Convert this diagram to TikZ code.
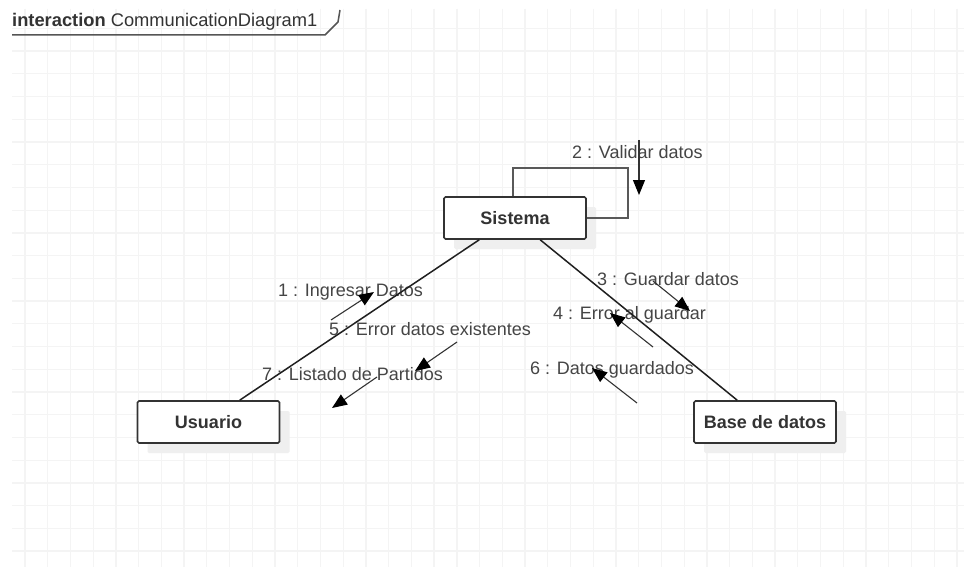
\documentclass[tikz,border=0pt]{standalone}
\usepackage{fontspec}
\setmainfont{Liberation Sans}
\usetikzlibrary{arrows.meta,calc,shadows}
\definecolor{gridc}{HTML}{F4F4F4}
\definecolor{shadowc}{HTML}{EFEFEF}
\definecolor{boxline}{HTML}{333333}
\definecolor{labelc}{HTML}{454545}
\definecolor{framec}{HTML}{555555}
\begin{document}
\begin{tikzpicture}[x=1pt,y=-1pt,
  gridline/.style={draw=gridc,line width=1.3pt},
  obj/.style={draw=boxline,fill=white,line width=1.6pt,rounded corners=1.5pt,
    minimum width=142pt,minimum height=42pt,inner sep=0pt,
    font=\fontsize{18}{20}\selectfont\bfseries,text=boxline,
    copy shadow={shadow xshift=10pt,shadow yshift=-10pt,fill=shadowc,draw=none}},
  link/.style={draw=black!88,line width=1.5pt},
  selflink/.style={draw=black!65,line width=1.5pt},
  msg/.style={font=\fontsize{18}{20}\selectfont,text=labelc,inner sep=0pt,anchor=west},
  msgarrow/.style={draw=black!80,line width=1.1pt,
    -{Triangle[length=15pt,width=12pt,color=black]}}]
\useasboundingbox (0,0) rectangle (964,567);
\fill[white] (0,0) rectangle (964,567);

% background grid
\begin{scope}
  \clip (12,9) rectangle (964,567);
  \foreach \i in {0,...,41}
    \draw[gridline] ({25+22.73*\i},9) -- ({25+22.73*\i},567);
  \foreach \j in {0,...,25}
    \draw[gridline] (12,{5.6+22.73*\j}) -- (964,{5.6+22.73*\j});
\end{scope}

% frame header
\node[anchor=base west,inner sep=0pt,text=boxline,font=\fontsize{18.3}{20}\selectfont] (title) at (12,27)
  {\textbf{interaction} CommunicationDiagram1};
\draw[framec,line width=1.5pt] (12,35) -- (325,35) -- (338,22) -- (340,10);

% message labels
\node[msg] (l1) at (278,292) {1 : Ingresar Datos};
\node[msg] (l2) at (572,152) {2 : Validar datos};
\node[msg] (l3) at (597,279) {3 : Guardar datos};
\node[msg] (l4) at (553,315) {4 : Error al guardar};
\node[msg] (l5) at (329,329) {5 : Error datos existentes};
\node[msg] (l6) at (530,370) {6 : Datos guardados};
\node[msg] (l7) at (262,374) {7 : Listado de Partidos};

% objects
\node[obj] (sis) at (515,218) {Sistema};
\node[obj] (usr) at (208.5,422) {Usuario};
\node[obj] (bd) at (765,422) {Base de datos};

% links
\draw[link] ($(sis.south west)+(36,0)$) -- ($(usr.north west)+(103,0)$);
\draw[link] ($(sis.south west)+(97,0)$) -- ($(bd.north west)+(44,0)$);
\draw[selflink] ($(sis.north west)+(70,0)$) |- ($(sis.north east)+(41,-28)$) |- (sis.east);

% message arrows
\coordinate (m1a) at (331,320); \coordinate (m1b) at (374,292);
\coordinate (m2a) at (639,140); \coordinate (m2b) at (639,195);
\coordinate (m3a) at (653,281); \coordinate (m3b) at (690,311);
\coordinate (m4a) at (653,347); \coordinate (m4b) at (610,313);
\coordinate (m5a) at (457,342); \coordinate (m5b) at (415,371);
\coordinate (m6a) at (637,403); \coordinate (m6b) at (592,368);
\coordinate (m7a) at (377,377); \coordinate (m7b) at (332,408);
\foreach \m in {1,...,7}
  \draw[msgarrow] (m\m a) -- (m\m b);
\end{tikzpicture}
\end{document}
